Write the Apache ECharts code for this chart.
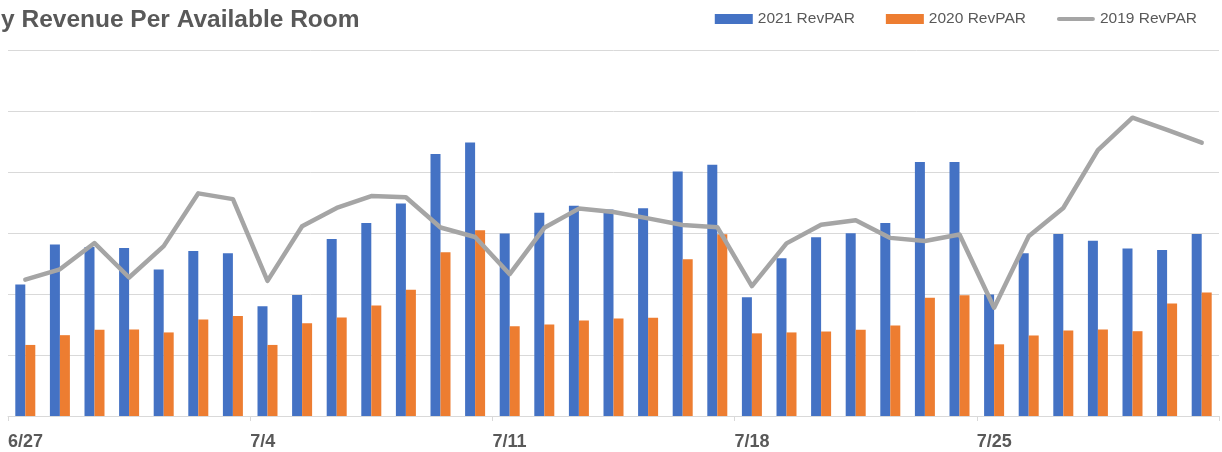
<!DOCTYPE html>
<html>
<head>
<meta charset="utf-8">
<script src="https://cdn.jsdelivr.net/npm/echarts@6/dist/echarts.min.js"></script>
<style>
html,body{margin:0;padding:0;background:#fff;}
#chart{width:1222px;height:452px;}
</style>
</head>
<body>
<div id="chart"></div>
<script>
const titleText = 'y Revenue Per Available Room';
const categories = ['6/27','6/28','6/29','6/30','7/1','7/2','7/3','7/4','7/5','7/6','7/7','7/8','7/9','7/10',
  '7/11','7/12','7/13','7/14','7/15','7/16','7/17','7/18','7/19','7/20','7/21','7/22','7/23','7/24',
  '7/25','7/26','7/27','7/28','7/29','7/30','7/31'];
const tickLabels = ['6/27','7/4','7/11','7/18','7/25',''];
const revpar2021 = [43.1,56.2,55.4,55.1,48.0,54.1,53.4,36.0,39.7,58.0,63.3,69.7,85.9,89.7,
  59.8,66.6,68.9,67.7,68.1,80.2,82.4,38.9,51.7,58.6,59.9,63.3,83.3,83.3,
  39.8,53.4,59.7,57.5,54.9,54.4,59.7];
const revpar2020 = [23.3,26.5,28.3,28.4,27.4,31.6,32.8,23.3,30.4,32.3,36.2,41.4,53.7,60.9,
  29.4,30.0,31.3,32.0,32.2,51.4,59.6,27.1,27.4,27.7,28.3,29.7,38.8,39.6,
  23.5,26.4,28.0,28.4,27.8,36.9,40.5];
const revpar2019 = [44.7,48.1,56.7,45.4,55.7,73.0,71.1,44.3,62.2,68.2,72.1,71.7,61.8,58.7,
  46.5,61.7,68.0,66.9,64.8,62.6,61.9,42.6,56.6,62.7,64.2,58.4,57.4,59.5,
  35.5,58.9,68.2,87.2,97.8,93.8,89.6];

const chart = echarts.init(document.getElementById('chart'), null, {renderer:'canvas'});
const fontFam = '"Liberation Sans", Arial, sans-serif';
chart.setOption({
  animation:false,
  backgroundColor:'#ffffff',
  title:{
    text:titleText, left:1, top:8, padding:0,
    textStyle:{fontFamily:fontFam, fontSize:24.5, fontWeight:'bold', color:'#595959'}
  },
  legend:{
    right:25, top:11, itemWidth:38, itemHeight:10, itemGap:31, padding:0,
    textStyle:{fontFamily:fontFam, fontSize:15.5, color:'#595959'},
    data:[
      {name:'2021 RevPAR', icon:'rect'},
      {name:'2020 RevPAR', icon:'rect'},
      {name:'2019 RevPAR', icon:'path://M2,0 L36,0 A2,2 0 0 1 36,4 L2,4 A2,2 0 0 1 2,0 Z'}
    ]
  },
  grid:{left:8, right:1, top:50, bottom:36, containLabel:false},
  xAxis:[
    {type:'category', data:categories, boundaryGap:true,
     axisLine:{show:false}, axisTick:{show:false}, axisLabel:{show:false}, splitLine:{show:false}},
    {type:'value', min:0, max:categories.length, interval:7, position:'bottom',
     axisLine:{show:true, lineStyle:{color:'#D9D9D9', width:1}},
     axisTick:{show:true, length:5, lineStyle:{color:'#D9D9D9'}},
     splitLine:{show:false},
     axisLabel:{show:true, align:'left', margin:17, fontFamily:fontFam, fontSize:18, fontWeight:'bold', color:'#595959',
       formatter:function(v){ return tickLabels[Math.round(v/7)] || ''; }}}
  ],
  yAxis:{type:'value', min:0, max:120, interval:20,
    axisLine:{show:false}, axisTick:{show:false}, axisLabel:{show:false},
    splitLine:{show:true, lineStyle:{color:'#D9D9D9', width:1}}},
  series:[
    {name:'2021 RevPAR', type:'bar', xAxisIndex:0, data:revpar2021, barWidth:10, barGap:'0%',
     itemStyle:{color:'#4472C4'}},
    {name:'2020 RevPAR', type:'bar', xAxisIndex:0, data:revpar2020, barWidth:10, barGap:'0%',
     itemStyle:{color:'#ED7D31'}},
    {name:'2019 RevPAR', type:'line', xAxisIndex:0, data:revpar2019, symbol:'none', showSymbol:false,
     lineStyle:{color:'#A5A5A5', width:4.5, cap:'round', join:'round'}, itemStyle:{color:'#A5A5A5'}, z:5}
  ]
});
</script>
</body>
</html>
